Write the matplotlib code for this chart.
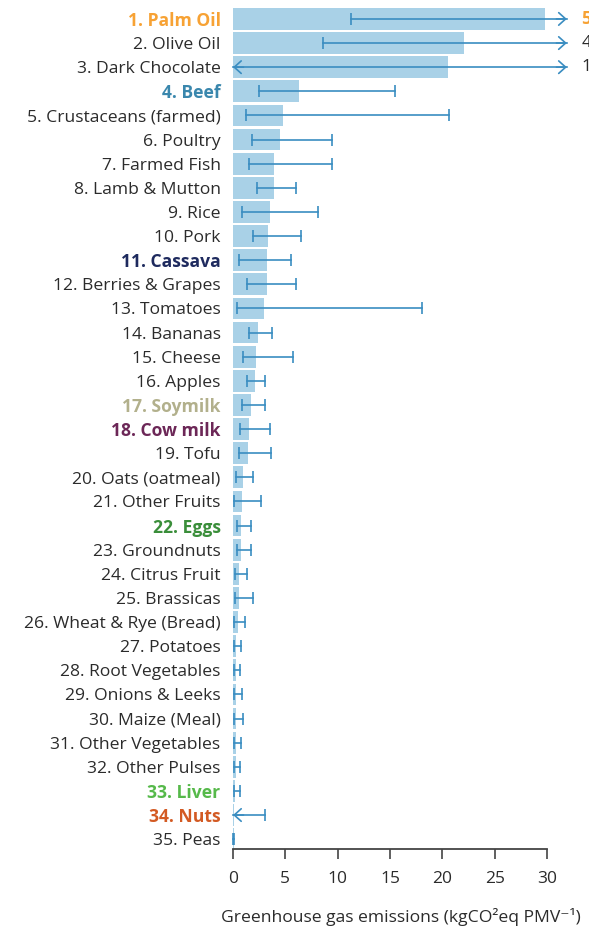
import numpy as np
import matplotlib.pyplot as plt

plt.rcParams['font.family'] = ['Open Sans', 'DejaVu Sans']

foods = ['Palm Oil', 'Olive Oil', 'Dark Chocolate', 'Beef', 'Crustaceans (farmed)',
         'Poultry', 'Farmed Fish', 'Lamb & Mutton', 'Rice', 'Pork', 'Cassava',
         'Berries & Grapes', 'Tomatoes', 'Bananas', 'Cheese', 'Apples', 'Soymilk',
         'Cow milk', 'Tofu', 'Oats (oatmeal)', 'Other Fruits', 'Eggs', 'Groundnuts',
         'Citrus Fruit', 'Brassicas', 'Wheat & Rye (Bread)', 'Potatoes',
         'Root Vegetables', 'Onions & Leeks', 'Maize (Meal)', 'Other Vegetables',
         'Other Pulses', 'Liver', 'Nuts', 'Peas']

# median emissions and the spread around it
median = [29.8, 22.1, 20.5, 6.3, 4.75, 4.5, 3.9, 3.9, 3.5, 3.3, 3.2, 3.2, 3.0,
          2.4, 2.2, 2.1, 1.7, 1.5, 1.45, 0.98, 0.86, 0.8, 0.8, 0.6, 0.6, 0.45,
          0.3, 0.25, 0.25, 0.3, 0.25, 0.25, 0.2, 0.1, 0.1]
low = [11.3, 8.6, -5.0, 2.5, 1.25, 1.8, 1.5, 2.3, 0.83, 1.9, 0.57, 1.3, 0.4,
       1.56, 1.0, 1.3, 0.83, 0.67, 0.6, 0.3, 0.12, 0.41, 0.35, 0.19, 0.19, 0.1,
       0.1, 0.1, 0.1, 0.1, 0.1, 0.1, 0.1, -2.0, 0.0]
high = [54.0, 45.0, 130.0, 15.5, 20.6, 9.5, 9.5, 6.0, 8.1, 6.5, 5.5, 6.0, 18.1,
        3.7, 5.7, 3.1, 3.1, 3.5, 3.6, 1.9, 2.7, 1.69, 1.69, 1.37, 1.88, 1.15,
        0.76, 0.67, 0.83, 1.0, 0.76, 0.67, 0.67, 3.06, 0.1]

highlight = {'Palm Oil': '#f7a234', 'Beef': '#3a87ad', 'Cassava': '#1e2a5e',
             'Soymilk': '#b2b08c', 'Cow milk': '#6c2757', 'Eggs': '#3a8e3a',
             'Liver': '#56b94a', 'Nuts': '#d35a23'}

bar_col = '#a9d1e7'
err_col = '#3a8dc1'
text_col = '#2b2b2b'
xmax = 30
arrow_end = 31.9

fig = plt.figure(figsize=(5.89, 9.27), dpi=100)
ax = fig.add_axes([0.3956, 0.0841, 0.5331, 0.9085])

y = np.arange(len(foods))
ax.barh(y, median, height=0.9, color=bar_col, zorder=1)

arrow_kw = dict(arrowstyle='->,head_length=0.5,head_width=0.45', color=err_col,
                lw=1.2, shrinkA=0, shrinkB=0)
for i in range(len(foods)):
    a = max(low[i], 0)
    b = min(high[i], arrow_end)
    ax.plot([a, b], [i, i], color=err_col, lw=1.2, zorder=2, clip_on=False)
    if low[i] < 0:
        ax.annotate('', xy=(0, i), xytext=(1, i), arrowprops=arrow_kw,
                    annotation_clip=False)
    else:
        ax.plot(a, i, marker='|', ms=8.6, mew=1.2, color=err_col, zorder=2,
                clip_on=False)
    if high[i] > xmax:
        ax.annotate('', xy=(arrow_end, i), xytext=(arrow_end - 1, i),
                    arrowprops=arrow_kw, annotation_clip=False)
        ax.text(33.3, i, f'{high[i]:g}', va='center', ha='left', fontsize=12.5,
                color=highlight.get(foods[i], text_col),
                fontweight='bold' if foods[i] in highlight else 'normal')
    else:
        ax.plot(b, i, marker='|', ms=8.6, mew=1.2, color=err_col, zorder=2,
                clip_on=False)

ax.set_yticks(y)
ax.set_yticklabels([f'{i + 1}. {f}' for i, f in enumerate(foods)], fontsize=12.6)
for lab, f in zip(ax.get_yticklabels(), foods):
    if f in highlight:
        lab.set_color(highlight[f])
        lab.set_fontweight('bold')
    else:
        lab.set_color(text_col)
ax.tick_params(axis='y', length=0, pad=9)

ax.set_xlim(0, xmax)
ax.set_ylim(34.41, -0.5)
ax.set_xticks(np.arange(0, 31, 5))
ax.tick_params(axis='x', direction='out', length=7, width=1.2, color='#444444',
               labelsize=12.5, labelcolor=text_col, pad=9)

for side in ['top', 'right', 'left']:
    ax.spines[side].set_visible(False)
ax.spines['bottom'].set_linewidth(1.3)
ax.spines['bottom'].set_color('#444444')

ax.set_xlabel('Greenhouse gas emissions (kgCO²eq PMV⁻¹)', fontsize=12.6,
              color=text_col)
ax.xaxis.set_label_coords(0.535, -0.07)

fig.savefig('out.png', dpi=100)
